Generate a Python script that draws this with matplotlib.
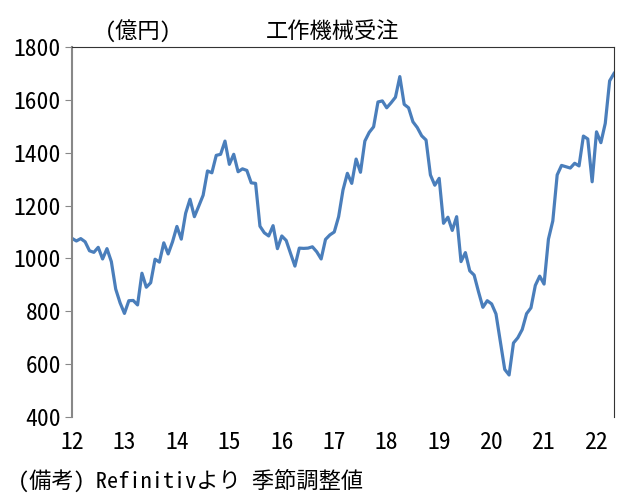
import numpy as np
import matplotlib.pyplot as plt

plt.rcParams['font.family'] = ['Noto Sans Mono CJK JP', 'Noto Sans CJK JP', 'DejaVu Sans']

# machine tool orders, monthly from 2012-01 (100 million yen, seasonally adjusted)
orders = [
    1076, 1066, 1075, 1063, 1029, 1023, 1042, 998, 1037, 988, 884, 832,
    792, 840, 841, 824, 944, 891, 908, 997, 986, 1059, 1017, 1063,
    1121, 1073, 1171, 1224, 1158, 1198, 1239, 1331, 1324, 1390, 1394, 1444,
    1356, 1394, 1328, 1339, 1333, 1286, 1284, 1122, 1097, 1085, 1124, 1037,
    1085, 1068, 1019, 971, 1039, 1038, 1039, 1044, 1025, 998, 1072, 1089,
    1100, 1158, 1259, 1322, 1284, 1376, 1326, 1444, 1477, 1498, 1592, 1596,
    1570, 1589, 1610, 1688, 1583, 1570, 1517, 1495, 1464, 1448, 1316, 1277,
    1303, 1133, 1156, 1106, 1158, 988, 1022, 953, 937, 874, 815, 840,
    828, 790, 685, 580, 559, 680, 700, 731, 791, 813, 898, 933,
    903, 1073, 1142, 1316, 1352, 1347, 1342, 1360, 1350, 1463, 1452, 1290,
    1479, 1438, 1511, 1672, 1700,
]
year_labels = ['12', '13', '14', '15', '16', '17', '18', '19', '20', '21', '22']
y_ticks = [400, 600, 800, 1000, 1200, 1400, 1600, 1800]

fig = plt.figure(figsize=(6.41, 5.0), dpi=100)
ax = fig.add_axes([72/641, 1-417/500, (614-72)/641, (417-47)/500])

x = np.arange(len(orders))
ax.plot(x, orders, color='#4a7ebb', lw=2.3)

ax.set_xlim(0, len(orders) - 1)
ax.set_ylim(400, 1800)
ax.set_yticks(y_ticks)
ax.set_xticks(np.arange(len(year_labels)) * 12)
ax.set_xticklabels(year_labels)

ax.tick_params(axis='y', labelsize=17, length=5, color='#888888', pad=3)
ax.tick_params(axis='x', labelsize=17, length=0, pad=10)
ax.spines['left'].set_color('#888888')
ax.spines['left'].set_linewidth(1.5)
ax.spines['bottom'].set_visible(False)
ax.spines['top'].set_color('#333333')
ax.spines['right'].set_color('#333333')

fig.text(333/641, 1-32/500, '工作機械受注', ha='center', va='center', fontsize=16)
fig.text(105/641, 1-32/500, '(億円)', ha='left', va='center', fontsize=16)
fig.text(18/641, 1-481/500, '(備考) Refinitivより 季節調整値', ha='left', va='center',
         fontsize=16)

fig.savefig('out.png', dpi=100)
